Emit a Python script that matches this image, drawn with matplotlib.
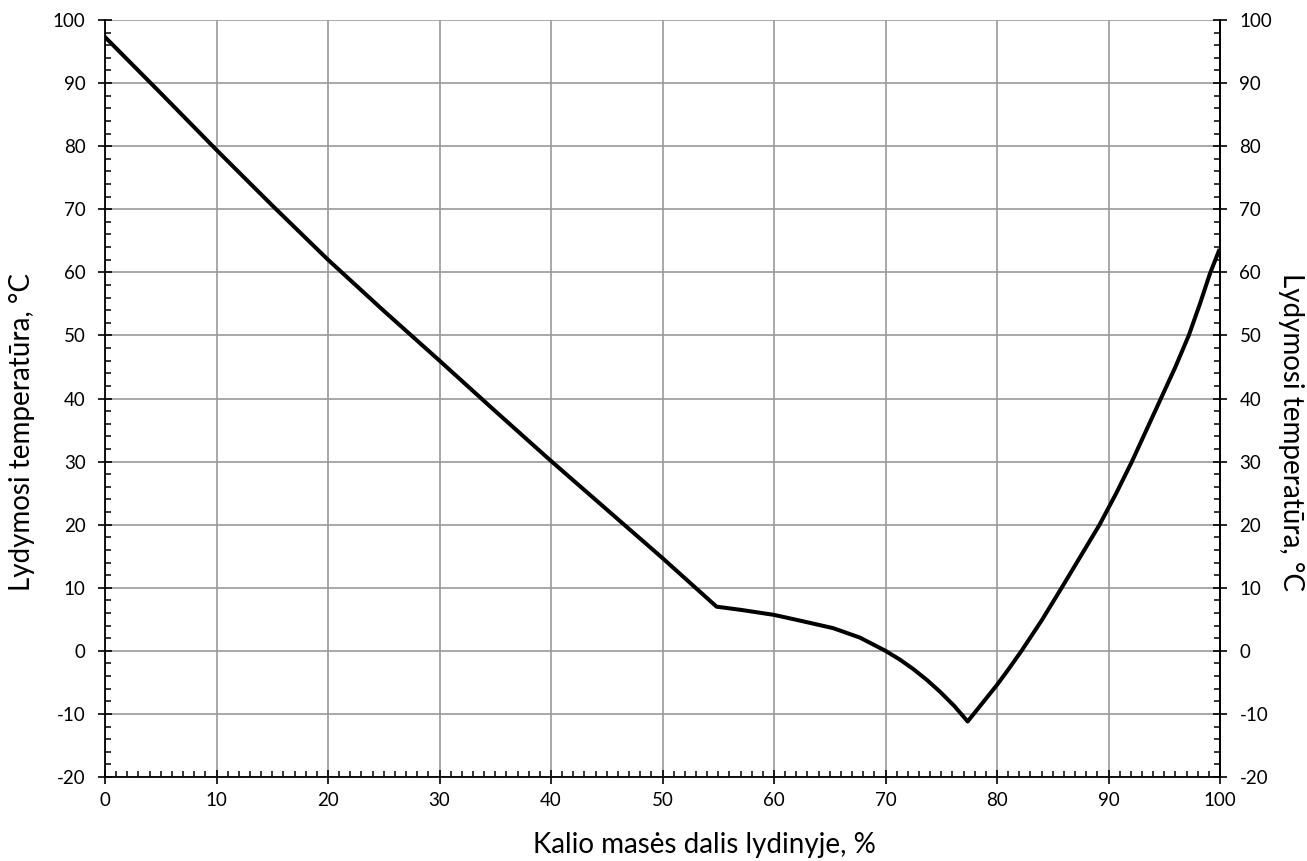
import matplotlib
matplotlib.use("Agg")
import matplotlib.pyplot as plt
from matplotlib.ticker import MultipleLocator

plt.rcParams['font.family'] = ['Lato', 'DejaVu Sans']
plt.rcParams['axes.unicode_minus'] = False

# Data
potassium_pct = [0, 5, 10, 15, 20, 25, 30, 35, 40, 45, 50, 54.85,
                 57, 60, 62.3, 65.3, 67.7, 70, 71.3, 72.5, 73.7, 74.9, 76.2, 77.37,
                 80, 81, 82.2, 84, 85.8, 87.5, 89.2, 90.7, 92.1, 93.4, 94.7,
                 96.0, 97.2, 98.2, 99.1, 99.9]
melt_temp = [97.3, 88.4, 79.4, 70.6, 62.0, 53.9, 46.0, 38.0, 30.1, 22.4, 14.7, 7.0,
             6.5, 5.7, 4.8, 3.6, 2.1, 0.0, -1.4, -2.9, -4.6, -6.5, -8.8, -11.2,
             -5.4, -3.0, 0.0, 4.8, 10.0, 15.0, 20.0, 25.0, 30.0, 35.0, 40.0,
             45.0, 50.0, 55.0, 59.8, 63.4]

x_ticks = list(range(0, 101, 10))
y_ticks = list(range(-20, 101, 10))
x_label = "Kalio masės dalis lydinyje, %"
y_label = "Lydymosi temperatūra, °C"

W, H = 1307, 861
fig = plt.figure(figsize=(W / 100, H / 100), dpi=100)
ax = fig.add_axes([105/W, 84/H, 1115/W, 757/H])

ax.plot(potassium_pct, melt_temp, color='black', lw=2.9, solid_joinstyle='round', zorder=5)

ax.set_xlim(0, 100)
ax.set_ylim(-20, 100)
ax.set_xticks(x_ticks)
ax.set_yticks(y_ticks)
ax.xaxis.set_minor_locator(MultipleLocator(1))
ax.yaxis.set_minor_locator(MultipleLocator(2))
ax.grid(True, which='major', color='#9a9a9a', lw=1.2)
ax.set_axisbelow(True)

for s in ['left', 'right', 'bottom']:
    ax.spines[s].set_linewidth(1.3)
    ax.spines[s].set_color('black')
ax.spines['top'].set_visible(False)

ax.tick_params(which='major', direction='inout', length=10, width=1.2, labelsize=13.5, colors='black')
ax.tick_params(which='minor', direction='in', length=4.5, width=1.1, colors='black')
ax.tick_params(axis='x', which='major', pad=6)
ax.tick_params(axis='y', which='major', pad=9)

ax2 = ax.twinx()
ax2.set_ylim(-20, 100)
ax2.set_yticks(y_ticks)
ax2.yaxis.set_minor_locator(MultipleLocator(2))
ax2.spines['top'].set_visible(False)
ax2.spines['left'].set_visible(False)
ax2.spines['bottom'].set_visible(False)
ax2.spines['right'].set_linewidth(1.3)
ax2.tick_params(which='major', direction='inout', length=10, width=1.2, labelsize=13.5, colors='black', pad=9)
ax2.tick_params(which='minor', direction='in', length=4.5, width=1.1, colors='black')

fig.text(704/W, 1 - 845/H, x_label, fontsize=20, ha='center', va='center')
fig.text(22/W, 1 - 432/H, y_label, fontsize=20, ha='center', va='center', rotation=90)
fig.text(1291/W, 1 - 432/H, y_label, fontsize=20, ha='center', va='center', rotation=270)

fig.savefig("out.png", dpi=100, facecolor='white')
